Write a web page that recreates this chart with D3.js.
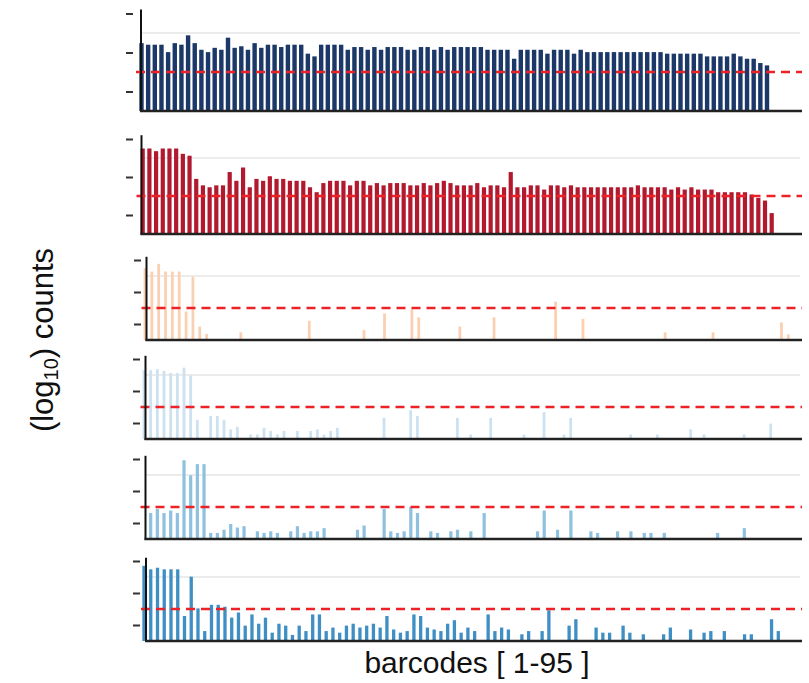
<!DOCTYPE html>
<html>
<head>
<meta charset="utf-8">
<script src="https://cdn.jsdelivr.net/npm/d3@7"></script>
<style>
	body { margin: 0; background: #fff; }
	svg { display: block; font-family: "Liberation Sans", Arial, sans-serif; }
</style>
</head>
<body>
<div id="chart"></div>
<script>
// Barcode counts (log10) for six samples, 95 barcodes each
const barcodes = d3.range(1, 96);
const tickValues = [1, 2, 3];
const threshold = 1.5;
const gridValue = 2.5;

// dense panels: one value per barcode
const navyCounts = [
	2.24, 2.20, 2.20, 2.20, 2.01, 2.24, 2.20, 2.44, 2.24, 2.07,
	2.01, 2.12, 2.07, 2.38, 2.12, 2.16, 2.07, 2.24, 2.12, 2.20,
	2.20, 2.14, 2.20, 2.20, 2.20, 1.97, 1.90, 2.20, 2.20, 2.20,
	2.20, 2.07, 2.14, 2.14, 2.07, 2.14, 2.07, 2.14, 2.14, 2.14,
	2.07, 2.07, 2.14, 2.14, 2.07, 2.14, 2.07, 2.14, 2.14, 2.14,
	2.14, 2.14, 2.07, 2.07, 2.07, 2.07, 1.84, 2.07, 2.07, 2.07,
	2.07, 1.97, 2.07, 2.07, 2.07, 1.97, 2.07, 2.01, 2.01, 2.01,
	2.01, 2.01, 2.01, 2.01, 2.01, 2.01, 2.01, 2.01, 2.01, 1.97,
	1.97, 1.97, 1.97, 1.97, 1.97, 1.90, 1.90, 1.90, 1.90, 1.97,
	1.90, 1.84, 1.84, 1.73, 1.67
];

const crimsonCounts = [
	2.75, 2.75, 2.68, 2.75, 2.75, 2.75, 2.61, 2.56, 1.95, 1.78,
	1.73, 1.78, 1.78, 2.13, 1.90, 2.25, 1.73, 1.95, 1.90, 2.02,
	1.95, 1.95, 1.90, 1.90, 1.90, 1.73, 1.60, 1.84, 1.90, 1.90,
	1.90, 1.78, 1.90, 1.90, 1.78, 1.84, 1.78, 1.84, 1.84, 1.84,
	1.78, 1.78, 1.84, 1.78, 1.84, 1.90, 1.84, 1.78, 1.78, 1.78,
	1.84, 1.73, 1.78, 1.78, 1.73, 2.13, 1.73, 1.73, 1.78, 1.78,
	1.67, 1.78, 1.78, 1.73, 1.78, 1.73, 1.73, 1.73, 1.73, 1.73,
	1.73, 1.73, 1.73, 1.73, 1.78, 1.73, 1.73, 1.73, 1.73, 1.67,
	1.73, 1.67, 1.73, 1.67, 1.67, 1.67, 1.60, 1.60, 1.60, 1.60,
	1.60, 1.54, 1.45, 1.38, 1.05
];

// sparse panels: [barcode, value]
const peachBars = [
	[1, 2.75], [2, 2.64], [3, 2.88], [4, 2.64], [5, 2.64], [6, 2.64], [7, 1.39], [8, 2.48],
	[9, 0.92], [10, 0.69], [15, 0.74], [25, 1.10], [33, 0.81], [36, 1.33], [40, 1.46],
	[41, 1.21], [47, 0.92], [52, 1.21], [61, 1.70], [65, 1.16], [77, 0.74], [84, 0.74],
	[94, 1.05], [95, 0.68]
];

const paleBlueBars = [
	[1, 2.65], [2, 2.65], [3, 2.68], [4, 2.63], [5, 2.56], [6, 2.56], [7, 2.73], [8, 2.49],
	[9, 1.10], [11, 1.22], [12, 1.22], [13, 1.10], [14, 0.80], [15, 0.88], [17, 0.64],
	[18, 0.64], [19, 0.85], [20, 0.75], [21, 0.64], [22, 0.75], [24, 0.75], [26, 0.75],
	[27, 0.80], [28, 0.64], [29, 0.75], [30, 0.85], [37, 1.16], [41, 1.40], [42, 1.22],
	[48, 1.16], [50, 0.64], [53, 1.16], [58, 0.64], [61, 1.34], [64, 0.64], [65, 1.16],
	[74, 0.64], [78, 0.64], [83, 0.80], [85, 0.64], [91, 0.64], [95, 0.98]
];

const skyBars = [
	[2, 1.31], [3, 1.44], [4, 1.31], [5, 1.39], [6, 1.31], [7, 2.96], [8, 2.49], [9, 2.84],
	[10, 2.84], [11, 0.69], [12, 0.69], [13, 0.79], [14, 0.97], [15, 0.86], [16, 0.90],
	[18, 0.74], [19, 0.69], [20, 0.74], [21, 0.69], [23, 0.74], [24, 0.90], [25, 0.69],
	[26, 0.74], [27, 0.74], [28, 0.84], [33, 0.79], [34, 0.92], [37, 1.44], [38, 0.74],
	[39, 0.69], [40, 0.74], [41, 1.50], [42, 1.31], [44, 0.74], [45, 0.69], [47, 0.74],
	[48, 0.79], [50, 0.74], [52, 1.31], [60, 0.74], [61, 1.39], [63, 0.79], [65, 1.39],
	[68, 0.74], [69, 0.69], [72, 0.74], [74, 0.74], [76, 0.69], [77, 0.69], [79, 0.69],
	[87, 0.69], [91, 0.84]
];

const steelBars = [
	[1, 2.85], [2, 2.74], [3, 2.79], [4, 2.74], [5, 2.74], [6, 2.74], [7, 1.28], [8, 2.51],
	[9, 1.52], [10, 0.81], [11, 1.63], [12, 1.63], [13, 1.57], [14, 1.23], [15, 1.39],
	[16, 0.98], [17, 1.33], [18, 1.04], [19, 1.23], [20, 0.76], [21, 1.04], [22, 0.98],
	[23, 0.69], [24, 0.98], [25, 0.81], [26, 1.33], [27, 1.33], [28, 0.81], [29, 0.92],
	[30, 0.76], [31, 0.98], [32, 1.04], [33, 0.92], [34, 0.98], [35, 1.04], [36, 0.92],
	[37, 1.28], [38, 0.86], [39, 0.76], [40, 0.81], [41, 1.33], [42, 1.28], [43, 0.92],
	[44, 0.86], [45, 0.81], [46, 1.04], [47, 1.15], [48, 0.76], [49, 0.92], [50, 0.81],
	[52, 1.33], [53, 0.81], [54, 0.92], [55, 0.86], [57, 0.71], [58, 0.81], [60, 0.81],
	[61, 1.46], [64, 0.98], [65, 1.18], [68, 0.92], [69, 0.76], [70, 0.76], [72, 0.98],
	[73, 0.76], [75, 0.71], [78, 0.71], [79, 0.92], [82, 0.86], [84, 0.76], [85, 0.81],
	[87, 0.81], [90, 0.71], [91, 0.71], [94, 1.18], [95, 0.81]
];

(function() {
	'use strict';

	const width = 809;
	const height = 683;

	// panel layout (pixels): baseline y, px per log unit, first/last bar centre, axis x
	const panels = [
		{ bars: navyCounts.map((v, i) => [barcodes[i], v]), color: '#1b3868', base: 111, unit: 39, c1: 141.5, c95: 767, axisX: 141, barW: 4.4, tickX: 133 },
		{ bars: crimsonCounts.map((v, i) => [barcodes[i], v]), color: '#b3192e', base: 234, unit: 38, c1: 142.7, c95: 771.7, axisX: 141.5, barW: 4.2, tickX: 133 },
		{ bars: peachBars, color: '#fbd0b2', base: 340, unit: 32, c1: 145, c95: 788.3, axisX: 146.5, barW: 2.8, tickX: 141 },
		{ bars: paleBlueBars, color: '#cde2f0', base: 439, unit: 32, c1: 144, c95: 770.7, axisX: 145.5, barW: 2.8, tickX: 140 },
		{ bars: skyBars, color: '#8ec1df', base: 539, unit: 32, c1: 144, c95: 771, axisX: 145.5, barW: 3.2, tickX: 140 },
		{ bars: steelBars, color: '#3f8fc5', base: 641, unit: 32, c1: 144, c95: 778.3, axisX: 146, barW: 3.3, tickX: 140 }
	];

	const svg = d3.select('#chart').append('svg')
		.attr('width', width)
		.attr('height', height);

	const yMin = 0.5;
	const yMax = 3.1;
	const rightEdge = 802;

	panels.forEach(p => {
		const g = svg.append('g');

		const y = d3.scaleLinear()
			.domain([yMin, yMax])
			.range([p.base, p.base - (yMax - yMin) * p.unit]);

		const step = (p.c95 - p.c1) / 94;
		const pad = 1 - p.barW / step;
		const x = d3.scaleBand()
			.domain(barcodes)
			.range([p.c1 - step / 2, p.c95 + step / 2])
			.paddingInner(pad)
			.paddingOuter(pad / 2);

		// light grid line
		g.append('line')
			.attr('x1', p.axisX)
			.attr('x2', rightEdge - 2)
			.attr('y1', y(gridValue))
			.attr('y2', y(gridValue))
			.attr('stroke', '#e6e6e6')
			.attr('stroke-width', 1.5);

		// bars
		g.selectAll('.bar')
			.data(p.bars)
			.enter()
			.append('rect')
			.attr('class', 'bar')
			.attr('x', d => x(d[0]))
			.attr('width', x.bandwidth())
			.attr('y', d => y(d[1]))
			.attr('height', d => y(yMin) - y(d[1]))
			.attr('fill', p.color);

		// threshold
		g.append('line')
			.attr('x1', p.axisX - 5)
			.attr('x2', rightEdge)
			.attr('y1', y(threshold))
			.attr('y2', y(threshold))
			.attr('stroke', '#ec2227')
			.attr('stroke-width', 2.6)
			.attr('stroke-dasharray', '9,6');

		// ticks only, no labels
		const axis = d3.axisLeft(y)
			.tickValues(tickValues)
			.tickSize(7)
			.tickFormat('');
		const ag = g.append('g')
			.attr('transform', `translate(${p.tickX}, 0)`)
			.call(axis);
		ag.select('.domain').remove();
		ag.selectAll('.tick line')
			.attr('stroke', '#333')
			.attr('stroke-width', 2);

		// axis lines
		g.append('line')
			.attr('x1', p.axisX)
			.attr('x2', p.axisX)
			.attr('y1', y(yMax))
			.attr('y2', y(yMin) + 1)
			.attr('stroke', '#111')
			.attr('stroke-width', 2);

		g.append('line')
			.attr('x1', p.axisX - 1)
			.attr('x2', rightEdge)
			.attr('y1', y(yMin))
			.attr('y2', y(yMin))
			.attr('stroke', '#222')
			.attr('stroke-width', 2.5);
	});

	// axis titles
	const yTitle = svg.append('text')
		.attr('transform', 'translate(53, 340) rotate(-90)')
		.attr('text-anchor', 'middle')
		.style('font-size', '31px')
		.style('fill', '#111');
	yTitle.append('tspan').text('(log');
	yTitle.append('tspan')
		.attr('dy', 5)
		.style('font-size', '20px')
		.text('10');
	yTitle.append('tspan')
		.attr('dy', -5)
		.text(') counts');

	svg.append('text')
		.attr('x', 477)
		.attr('y', 673)
		.attr('text-anchor', 'middle')
		.style('font-size', '30px')
		.style('fill', '#111')
		.text('barcodes [ 1-95 ]');
})();
</script>
</body>
</html>
